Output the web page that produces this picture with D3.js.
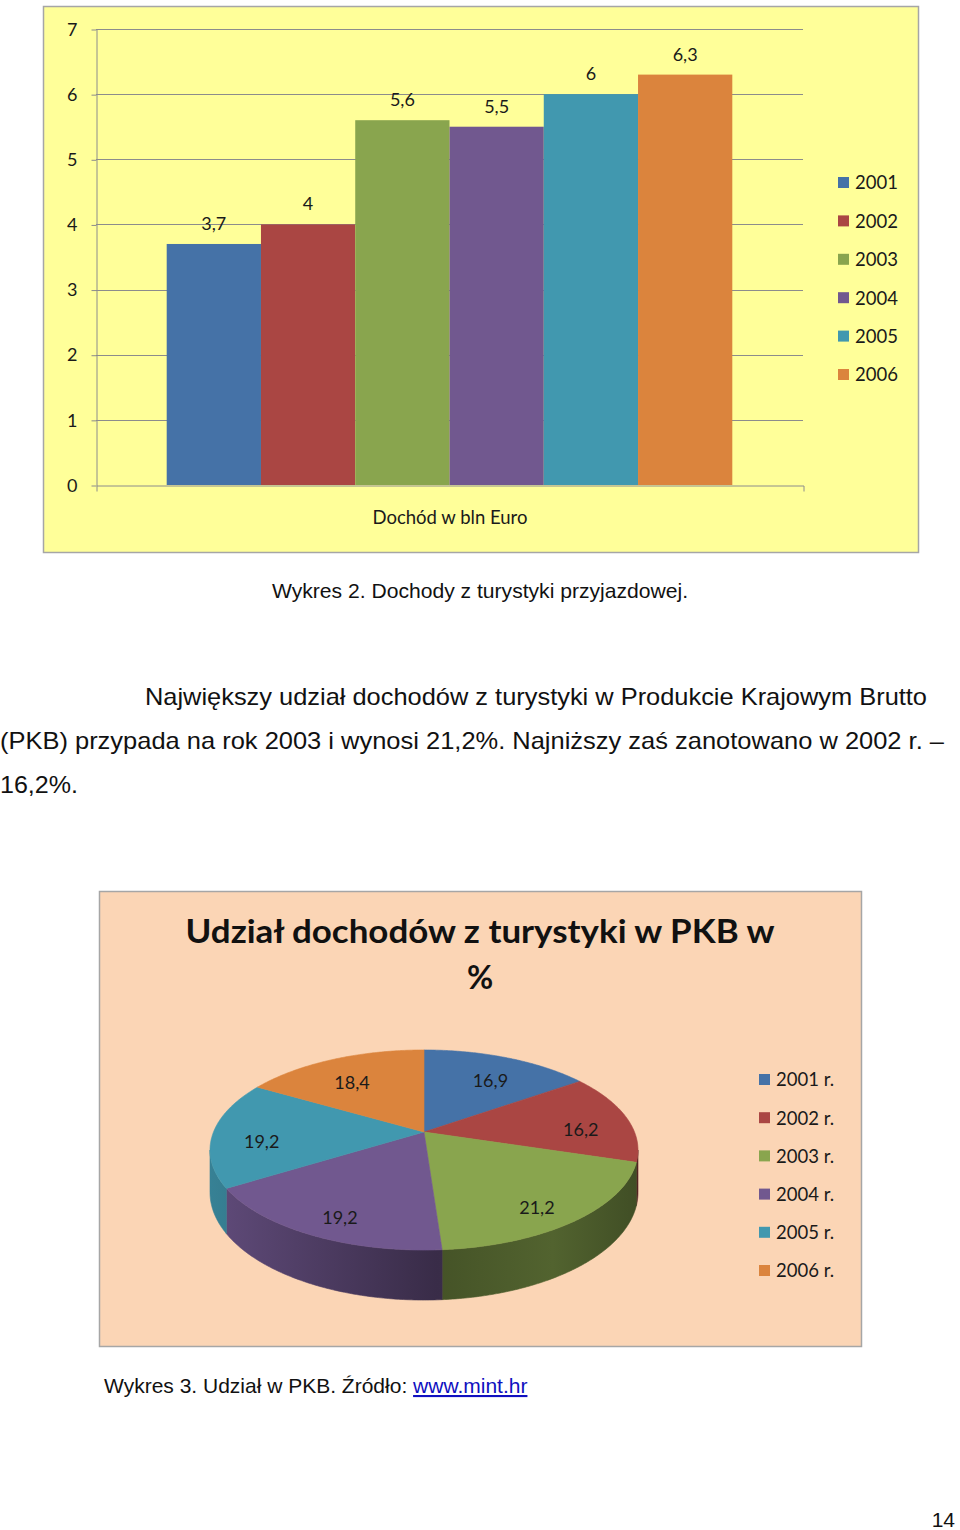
<!DOCTYPE html>
<html>
<head>
<meta charset="utf-8">
<script src="https://cdn.jsdelivr.net/npm/d3@7"></script>
<style>
  body { margin: 0; background: #fff; }
  svg { display: block; }
</style>
</head>
<body>
<svg id="page" width="960" height="1530"></svg>
<script>
// bar chart: income in bln Euro
const barYears = ["2001", "2002", "2003", "2004", "2005", "2006"];
const barValues = [3.7, 4, 5.6, 5.5, 6, 6.3];
const yTicks = [0, 1, 2, 3, 4, 5, 6, 7];

// pie chart: share in GDP (%)
const pieYears = ["2001 r.", "2002 r.", "2003 r.", "2004 r.", "2005 r.", "2006 r."];
const pieValues = [16.9, 16.2, 21.2, 19.2, 19.2, 18.4];

const colors = ["#4572A7", "#AA4643", "#89A54E", "#71588F", "#4198AF", "#DB843D"];

const chartFont = "Lato, 'Open Sans', sans-serif";
const docFont = "'Liberation Sans', Arial, sans-serif";
const fmt = d3.formatLocale({ decimal: ",", thousands: " ", grouping: [3], currency: ["", ""] }).format(".3~r");

const svg = d3.select("#page");
svg.append("rect").attr("width", 960).attr("height", 1530).attr("fill", "#fff");

// ---------- bar chart ----------
const $bar = svg.append("g");
$bar.append("rect")
  .attr("x", 43.5).attr("y", 6.5).attr("width", 875).attr("height", 546)
  .attr("fill", "#FFFF99").attr("stroke", "#A6A6A6").attr("stroke-width", 1.5);

const x = d3.scaleBand().domain(barYears).range([96, 803]).paddingInner(0).paddingOuter(0.75);
const y = d3.scaleLinear().domain([0, 7]).range([485, 29]);

// gridlines behind bars
$bar.append("g")
  .selectAll("line")
  .data(yTicks.slice(1))
  .join("line")
  .attr("x1", 96).attr("x2", 803)
  .attr("y1", (d) => Math.round(y(d)) + 0.5).attr("y2", (d) => Math.round(y(d)) + 0.5)
  .attr("stroke", "#8C8C8C");

const $yAxis = $bar.append("g")
  .attr("transform", "translate(96.5,0.5)")
  .call(d3.axisLeft(y).tickValues(yTicks).tickSize(5).tickSizeOuter(0).tickPadding(14).tickFormat(fmt));
$yAxis.attr("font-family", chartFont).attr("font-size", 18);
$yAxis.selectAll("line, path").attr("stroke", "#8C8C8C");
$yAxis.selectAll("text").attr("fill", "#1a1a1a");

const $xAxis = $bar.append("g")
  .attr("transform", `translate(0,${y(0) + 0.5})`)
  .call(d3.axisBottom(d3.scaleLinear().range([96.5, 803.5])).tickValues([]).tickSizeOuter(6));
$xAxis.select(".domain").attr("stroke", "#8C8C8C");

$bar.append("g")
  .selectAll("rect")
  .data(barValues)
  .join("rect")
  .attr("x", (d, i) => x(barYears[i]))
  .attr("y", (d) => y(d))
  .attr("width", x.bandwidth())
  .attr("height", (d) => y(0) - y(d))
  .attr("fill", (d, i) => colors[i]);

// value labels
$bar.append("g")
  .selectAll("text")
  .data(barValues)
  .join("text")
  .attr("x", (d, i) => x(barYears[i]) + x.bandwidth() / 2)
  .attr("y", (d) => y(d) - 14)
  .attr("text-anchor", "middle")
  .attr("font-family", chartFont).attr("font-size", 18).attr("fill", "#1a1a1a")
  .text((d) => fmt(d));

$bar.append("text")
  .attr("x", 450).attr("y", 524)
  .attr("text-anchor", "middle")
  .attr("font-family", chartFont).attr("font-size", 18.5).attr("fill", "#1a1a1a")
  .text("Dochód w bln Euro");

// legend
const $barLegend = $bar.append("g").selectAll("g").data(barYears).join("g")
  .attr("transform", (d, i) => `translate(838,${183 + i * 38.4})`);
$barLegend.append("rect").attr("x", 0).attr("y", -6).attr("width", 11).attr("height", 11)
  .attr("fill", (d, i) => colors[i]);
$barLegend.append("text").attr("x", 17).attr("dy", "0.35em")
  .attr("font-family", chartFont).attr("font-size", 18.5).attr("fill", "#1a1a1a")
  .text((d) => d);

// ---------- text between charts ----------
const docText = (str, tx, ty, size, len, anchor) => {
  const t = svg.append("text")
    .attr("x", tx).attr("y", ty)
    .attr("font-family", docFont).attr("font-size", size).attr("fill", "#111")
    .attr("text-anchor", anchor || "start")
    .text(str);
  if (len) t.attr("textLength", len).attr("lengthAdjust", "spacingAndGlyphs");
  return t;
};
docText("Wykres 2. Dochody z turystyki przyjazdowej.", 480, 598, 21, 416, "middle");
docText("Największy udział dochodów z turystyki w Produkcie Krajowym Brutto", 145, 705, 24, 782);
docText("(PKB) przypada na rok 2003 i wynosi 21,2%. Najniższy zaś zanotowano w 2002 r. –", 0, 749, 24, 944);
docText("16,2%.", 0, 793, 24, 78);

// ---------- pie chart ----------
const $pie = svg.append("g");
$pie.append("rect")
  .attr("x", 99.5).attr("y", 891.5).attr("width", 762).attr("height", 455)
  .attr("fill", "#FBD5B5").attr("stroke", "#A6A6A6").attr("stroke-width", 1.5);

$pie.append("text")
  .attr("x", 480).attr("y", 943)
  .attr("text-anchor", "middle")
  .attr("font-family", chartFont).attr("font-weight", 700).attr("font-size", 32).attr("fill", "#111")
  .attr("textLength", 589).attr("lengthAdjust", "spacingAndGlyphs")
  .text("Udział dochodów z turystyki w PKB w");
$pie.append("text")
  .attr("x", 480).attr("y", 989)
  .attr("text-anchor", "middle")
  .attr("font-family", chartFont).attr("font-weight", 700).attr("font-size", 32).attr("fill", "#111")
  .text("%");

// simple perspective: unit disk (u,v) -> screen, v=+1 is the near edge
const cx = 424, cy = 1132, Rx = 210.5, Ry = 96.8, persp = 0.18, depth = 41;
const project = (a, r, drop) => {
  const u = r * Math.sin(a), v = -r * Math.cos(a);
  const w = 1 - persp * v;
  return [cx + (Rx * u) / w, cy + (Ry * v) / w + (drop || 0) / w];
};
const arcPoints = (a0, a1, r, drop) => {
  const n = Math.max(2, Math.ceil((a1 - a0) / 0.01));
  return d3.range(n + 1).map((k) => project(a0 + ((a1 - a0) * k) / n, r, drop));
};
const line = d3.line();

const arcs = d3.pie().sort(null).value((d) => d)(pieValues);

// side wall shading, horizontal gradient
const defs = svg.append("defs");
const shade = [[0, 0.85], [0.2, 0.72], [0.53, 0.5], [0.8, 0.6], [1, 0.47]];
colors.forEach((c, i) => {
  const g = defs.append("linearGradient").attr("id", `wall${i}`)
    .attr("gradientUnits", "userSpaceOnUse")
    .attr("x1", cx - 214).attr("x2", cx + 214).attr("y1", 0).attr("y2", 0);
  const base = d3.rgb(c);
  shade.forEach(([o, k]) => {
    g.append("stop").attr("offset", o)
      .attr("stop-color", d3.rgb(base.r * k, base.g * k, base.b * k).formatHex());
  });
});

// visible walls between the horizontal extremes of the rim
const wallFrom = Math.PI - Math.acos(persp), wallTo = Math.PI + Math.acos(persp);
const $walls = $pie.append("g");
arcs.forEach((s, i) => {
  const a0 = Math.max(s.startAngle, wallFrom), a1 = Math.min(s.endAngle, wallTo);
  if (a1 <= a0) return;
  const pts = arcPoints(a0, a1, 1, 0).concat(arcPoints(a0, a1, 1, depth).reverse());
  $walls.append("path").attr("d", line(pts) + "Z")
    .attr("fill", `url(#wall${i})`).attr("stroke", `url(#wall${i})`).attr("stroke-width", 0.6);
});

$pie.append("g")
  .selectAll("path")
  .data(arcs)
  .join("path")
  .attr("d", (s) => line([project(0, 0)].concat(arcPoints(s.startAngle, s.endAngle, 1, 0))) + "Z")
  .attr("fill", (s, i) => colors[i])
  .attr("stroke", (s, i) => colors[i]).attr("stroke-width", 0.6);

$pie.append("g")
  .selectAll("text")
  .data(arcs)
  .join("text")
  .attr("transform", (s) => `translate(${project((s.startAngle + s.endAngle) / 2, 0.77, 9)})`)
  .attr("dy", "0.35em")
  .attr("text-anchor", "middle")
  .attr("font-family", chartFont).attr("font-size", 18).attr("fill", "#1a1a1a")
  .text((s) => fmt(s.data));

const $pieLegend = $pie.append("g").selectAll("g").data(pieYears).join("g")
  .attr("transform", (d, i) => `translate(759,${1080 + i * 38.2})`);
$pieLegend.append("rect").attr("x", 0).attr("y", -6).attr("width", 11).attr("height", 11)
  .attr("fill", (d, i) => colors[i]);
$pieLegend.append("text").attr("x", 17).attr("dy", "0.35em")
  .attr("font-family", chartFont).attr("font-size", 18.5).attr("fill", "#1a1a1a")
  .text((d) => d);

// ---------- caption + page number ----------
const cap = docText("Wykres 3. Udział w PKB. Źródło: ", 104, 1393, 21, null);
cap.append("tspan").attr("fill", "#1010C0").attr("text-decoration", "underline").text("www.mint.hr");
docText("14", 955, 1527, 21, null, "end");
</script>
</body>
</html>
